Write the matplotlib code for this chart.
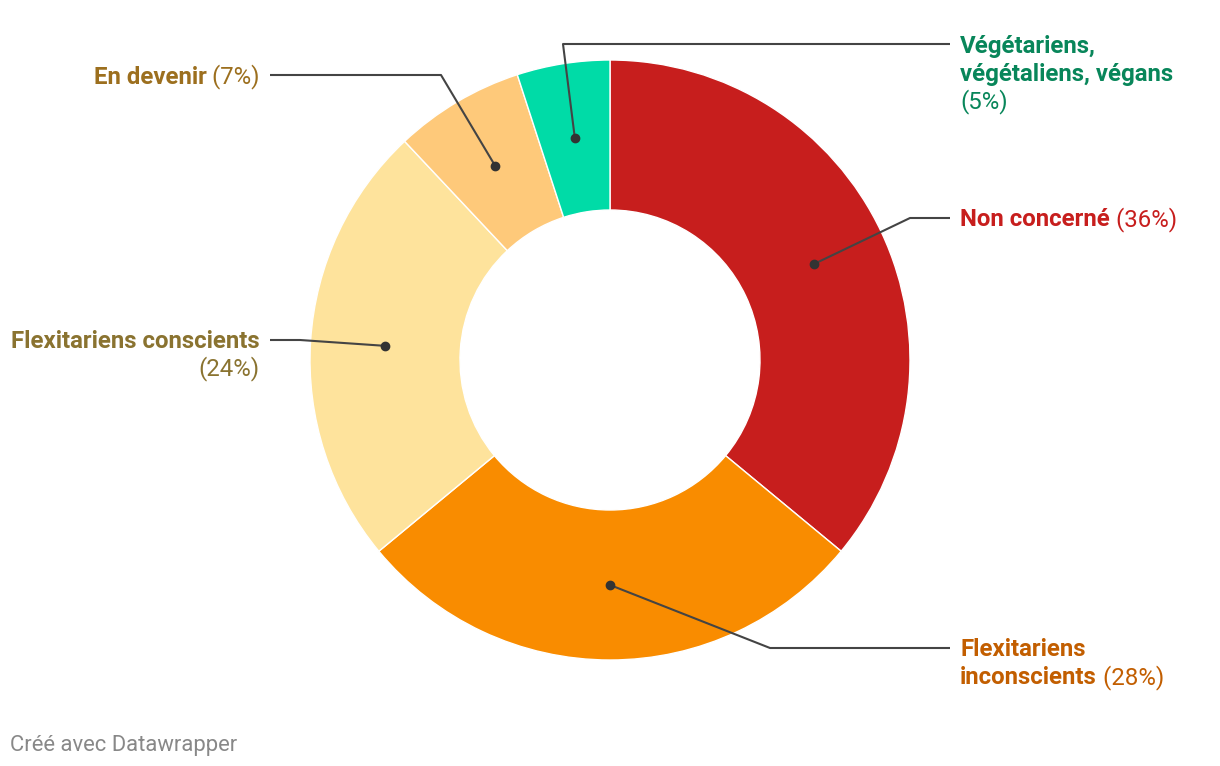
import matplotlib
matplotlib.use("Agg")
import matplotlib.pyplot as plt
import numpy as np

plt.rcParams['font.family'] = ['Roboto', 'DejaVu Sans']

# data
categories = ['Non concerné', 'Flexitariens inconscients', 'Flexitariens conscients',
              'En devenir', 'Végétariens, végétaliens, végans']
values = [36, 28, 24, 7, 5]
slice_colors = ['#c71e1d', '#f98c00', '#fee39c', '#fec97a', '#00dba7']
text_colors = ['#c71e1d', '#c25e00', '#8a7330', '#9c6f1e', '#08865a']

W, H = 1220, 766
fig = plt.figure(figsize=(W / 100, H / 100), dpi=100)
ax = fig.add_axes([0, 0, 1, 1])

cx, cy = 610, H - 360
R = 300
wedges, _ = ax.pie(values, colors=slice_colors, startangle=90, counterclock=False,
                   center=(cx, cy), radius=R, frame=True,
                   wedgeprops=dict(width=150, edgecolor='white', linewidth=1))
ax.set_xlim(0, W)
ax.set_ylim(0, H)
ax.set_aspect('auto')
ax.axis('off')

renderer = fig.canvas.get_renderer()
FS = 17.3


def line_parts(x, y, parts, color, ha='left'):
    # draw bold / regular pieces on one line, in pixel coords (y from top)
    objs = []
    for txt, wt in parts:
        t = ax.text(0, H - y - 2, txt, fontsize=FS, fontweight=wt, color=color,
                    va='center', ha='left')
        objs.append(t)
    widths = [t.get_window_extent(renderer).width for t in objs]
    start = x if ha == 'left' else x - sum(widths)
    for t, w in zip(objs, widths):
        t.set_x(start)
        start += w


# label layout: elbow, line end, text lines (pixel coords from top)
layout = [
    dict(elbow=(910, 218), end=(950, 218), tx=960, ha='left',
         lines=[(218, [('Non concerné', 'bold'), (' (36%)', 'normal')])]),
    dict(elbow=(770, 648), end=(950, 648), tx=960, ha='left',
         lines=[(648, [('Flexitariens', 'bold')]),
                (676, [('inconscients', 'bold'), (' (28%)', 'normal')])]),
    dict(elbow=(300, 340), end=(270, 340), tx=260, ha='right',
         lines=[(339, [('Flexitariens conscients', 'bold')]),
                (367, [('(24%)', 'normal')])]),
    dict(elbow=(441, 75), end=(270, 75), tx=260, ha='right',
         lines=[(75, [('En devenir', 'bold'), (' (7%)', 'normal')])]),
    dict(elbow=(563, 44), end=(950, 44), tx=960, ha='left',
         lines=[(44, [('Végétariens,', 'bold')]),
                (72, [('végétaliens, végans', 'bold')]),
                (100, [('(5%)', 'normal')])]),
]

for w, lay, col in zip(wedges, layout, text_colors):
    mid = np.deg2rad((w.theta1 + w.theta2) / 2)
    dx = cx + 225 * np.cos(mid)
    dy = cy + 225 * np.sin(mid)
    ex, ey = lay['elbow']
    lx, ly = lay['end']
    ax.plot([dx, ex, lx], [dy, H - ey, H - ly], color='#444444', lw=1.5,
            solid_capstyle='butt', zorder=3)
    ax.plot(dx, dy, 'o', color='#333333', ms=6, zorder=4)
    for yy, parts in lay['lines']:
        line_parts(lay['tx'], yy, parts, col, lay['ha'])

ax.text(10, H - 745, 'Créé avec Datawrapper', fontsize=15.8, color='#888888',
        va='center', ha='left')

fig.savefig('out.png', dpi=100)
